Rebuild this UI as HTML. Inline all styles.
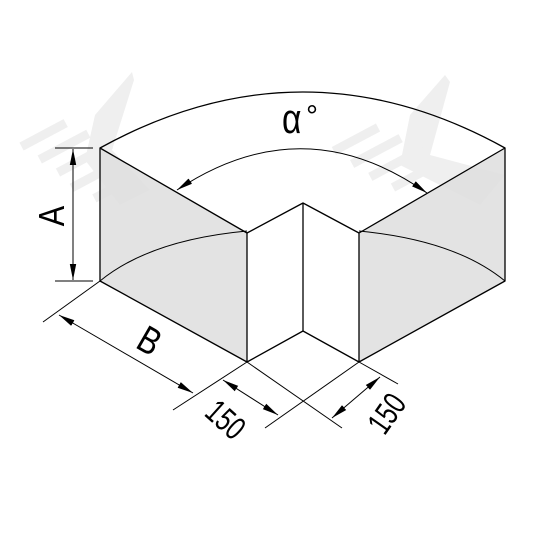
<!DOCTYPE html>
<html><head><meta charset="utf-8"><style>html,body{margin:0;padding:0;background:#fff}svg{display:block}</style></head>
<body>
<svg width="533" height="533" viewBox="0 0 533 533" xmlns="http://www.w3.org/2000/svg">
<defs>
<marker id="ar2" viewBox="0 0 20 10" refX="20" refY="5" markerWidth="16" markerHeight="8" markerUnits="userSpaceOnUse" orient="auto-start-reverse">
<path d="M0,1 L20,5 L0,9 Z" fill="#000"/></marker>
</defs>
<g fill="#efefef">
<polygon points="95,115 132,72 134,80 112,150 150,190 120,205 85,160"/>
<g transform="rotate(-28 80 150)">
<rect x="30" y="115" width="50" height="9"/><rect x="40" y="135" width="55" height="9"/><rect x="50" y="155" width="60" height="9"/><rect x="55" y="175" width="55" height="9"/><rect x="70" y="195" width="40" height="9"/>
</g>
<polygon points="410,115 445,75 450,82 430,155 505,175 480,205 400,165"/>
<g transform="rotate(-28 390 150)">
<rect x="340" y="120" width="50" height="9"/><rect x="350" y="140" width="55" height="9"/><rect x="360" y="160" width="60" height="9"/><rect x="375" y="180" width="50" height="9"/>
</g>
</g>
<g stroke="#000" stroke-width="1.3" fill="none" stroke-linejoin="round">
<polygon points="100,148 247,233 247,362 100,281" fill="#dedede" fill-opacity="0.85"/>
<polygon points="359,233 505,148 505,281 359,362" fill="#dedede" fill-opacity="0.85"/>
<path d="M100,281 Q150,240 247,231" stroke-width="1"/>
<path d="M359,231 Q455,240 505,281" stroke-width="1"/>
<path d="M100,148 Q303,36 505,148"/>
<polyline points="247,233 303,203 359,233"/>
<line x1="303" y1="203" x2="303" y2="331"/>
<polyline points="247,362 303,331 359,362"/>
</g>
<g stroke="#000" stroke-width="1" fill="none">
<line x1="55" y1="148" x2="93" y2="148"/>
<line x1="55" y1="281" x2="93" y2="281"/>
<line x1="73" y1="149" x2="73" y2="280" marker-start="url(#ar2)" marker-end="url(#ar2)"/>
<line x1="100" y1="281" x2="43" y2="322"/>
<line x1="247" y1="362" x2="173" y2="410"/>
<line x1="59" y1="315" x2="193" y2="393" marker-start="url(#ar2)" marker-end="url(#ar2)"/>
<line x1="247" y1="362" x2="342" y2="428"/>
<line x1="359" y1="362" x2="265" y2="428"/>
<line x1="359" y1="362" x2="398" y2="384"/>
<line x1="223" y1="380" x2="278" y2="415" marker-start="url(#ar2)" marker-end="url(#ar2)"/>
<line x1="380" y1="377" x2="332" y2="418" marker-start="url(#ar2)" marker-end="url(#ar2)"/>
<path d="M177,190 Q303,106 427,193" marker-start="url(#ar2)" marker-end="url(#ar2)"/>
</g>
<g font-family="Liberation Sans, sans-serif" fill="#000">
<text transform="translate(282,133) scale(0.8,1)" font-size="42">α</text>
<text x="306" y="126" font-size="30">°</text>
<text transform="translate(64,216) rotate(-90) scale(0.85,1)" font-size="36" text-anchor="middle">A</text>
<text transform="translate(143,352) rotate(30) scale(0.8,1)" font-size="38" text-anchor="middle">B</text>
<text transform="translate(218,428) rotate(42) scale(0.8,1.1)" font-size="30" text-anchor="middle">150</text>
<text transform="translate(396,420) rotate(-55) scale(0.8,1.1)" font-size="30" text-anchor="middle">150</text>
</g>
</svg>
</body></html>
